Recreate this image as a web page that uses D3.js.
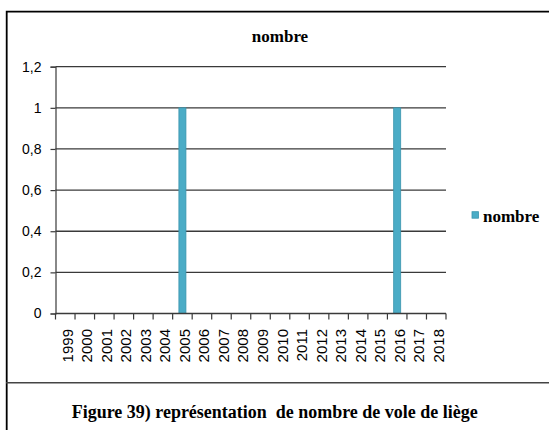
<!DOCTYPE html>
<html>
<head>
<meta charset="utf-8">
<script src="https://cdn.jsdelivr.net/npm/d3@7"></script>
<style>
  body { margin: 0; background: #fff; }
  svg { display: block; }
</style>
</head>
<body>
<svg id="chart"></svg>
<script>
const width = 549;
const height = 430;

const years = ["1999", "2000", "2001", "2002", "2003", "2004", "2005", "2006", "2007", "2008",
  "2009", "2010", "2011", "2012", "2013", "2014", "2015", "2016", "2017", "2018"];
const nombre = [0, 0, 0, 0, 0, 0, 1, 0, 0, 0, 0, 0, 0, 0, 0, 0, 0, 1, 0, 0];
const yTicks = [0, 0.2, 0.4, 0.6, 0.8, 1, 1.2];

const svg = d3.select("#chart")
  .attr("width", width)
  .attr("height", height);

// cadre
svg.append("path")
  .attr("d", "M6.7,430 V11.7 H549")
  .attr("fill", "none")
  .attr("stroke", "#000")
  .attr("stroke-width", 1.8);
svg.append("line")
  .attr("x1", 6).attr("x2", 549)
  .attr("y1", 382.7).attr("y2", 382.7)
  .attr("stroke", "#444")
  .attr("stroke-width", 1.5);

const margin = { left: 55.5, right: 103, top: 66.7, bottom: 116.5 };

const x = d3.scaleBand()
  .domain(years)
  .range([margin.left, width - margin.right])
  .paddingInner(0.64)
  .paddingOuter(0.32);

const y = d3.scaleLinear()
  .domain([0, 1.2])
  .range([height - margin.bottom, margin.top]);

const fmt = d => d3.format(".1f")(d).replace(".0", "").replace(".", ",");

// grille
svg.append("g")
  .selectAll("line")
  .data(yTicks.slice(1))
  .join("line")
  .attr("x1", margin.left)
  .attr("x2", width - margin.right)
  .attr("y1", d => y(d))
  .attr("y2", d => y(d))
  .attr("stroke", "#3a3a3a")
  .attr("stroke-width", 1.3);

// barres
svg.append("g")
  .selectAll("rect")
  .data(years.map((yr, i) => ({ yr, v: nombre[i] })).filter(d => d.v > 0))
  .join("rect")
  .attr("x", d => x(d.yr))
  .attr("y", d => y(d.v))
  .attr("width", x.bandwidth())
  .attr("height", d => y(0) - y(d.v))
  .attr("fill", "#4bacc6")
  .attr("stroke", "#3a95ae")
  .attr("stroke-width", 0.8);

// axe Y
const yAxis = svg.append("g")
  .attr("transform", `translate(${margin.left},0)`)
  .call(d3.axisLeft(y).tickValues(yTicks).tickFormat(fmt).tickSize(5).tickPadding(9));
yAxis.selectAll("path, line").attr("stroke", "#3a3a3a").attr("stroke-width", 1.2);
yAxis.selectAll("text")
  .attr("font-family", "Liberation Sans, Arial, sans-serif")
  .attr("font-size", 14)
  .attr("fill", "#000");

// axe X avec graduations entre les catégories
const xg = svg.append("g");
xg.append("line")
  .attr("x1", margin.left).attr("x2", width - margin.right)
  .attr("y1", y(0)).attr("y2", y(0))
  .attr("stroke", "#3a3a3a")
  .attr("stroke-width", 1.3);
const step = x.step();
const edges = d3.range(years.length + 1).map(i => margin.left + i * step);
xg.selectAll("line.tick")
  .data(edges)
  .join("line")
  .attr("class", "tick")
  .attr("x1", d => d).attr("x2", d => d)
  .attr("y1", y(0)).attr("y2", y(0) + 6)
  .attr("stroke", "#3a3a3a")
  .attr("stroke-width", 1.2);
xg.selectAll("text")
  .data(years)
  .join("text")
  .attr("transform", d => `translate(${x(d) + x.bandwidth() / 2 + 7.5},${y(0) + 15.5}) rotate(-90)`)
  .attr("text-anchor", "end")
  .attr("font-family", "Liberation Sans, Arial, sans-serif")
  .attr("font-size", 15)
  .attr("fill", "#000")
  .text(d => d);

// titre
svg.append("text")
  .attr("x", 280)
  .attr("y", 41.7)
  .attr("text-anchor", "middle")
  .attr("font-family", "Liberation Serif, Times New Roman, serif")
  .attr("font-weight", "bold")
  .attr("font-size", 17)
  .text("nombre");

// légende
svg.append("rect")
  .attr("x", 472).attr("y", 211.7)
  .attr("width", 6.5).attr("height", 6.5)
  .attr("fill", "#4bacc6")
  .attr("stroke", "#3a95ae")
  .attr("stroke-width", 0.8);
svg.append("text")
  .attr("x", 483)
  .attr("y", 221.5)
  .attr("font-family", "Liberation Serif, Times New Roman, serif")
  .attr("font-weight", "bold")
  .attr("font-size", 17)
  .text("nombre");

// légende de la figure
svg.append("text")
  .attr("x", 71.7)
  .attr("y", 418)
  .attr("font-family", "Liberation Serif, Times New Roman, serif")
  .attr("font-weight", "bold")
  .attr("font-size", 18)
  .attr("textLength", 406)
  .attr("lengthAdjust", "spacingAndGlyphs")
  .attr("xml:space", "preserve")
  .text("Figure 39) représentation  de nombre de vole de liège");
</script>
</body>
</html>
